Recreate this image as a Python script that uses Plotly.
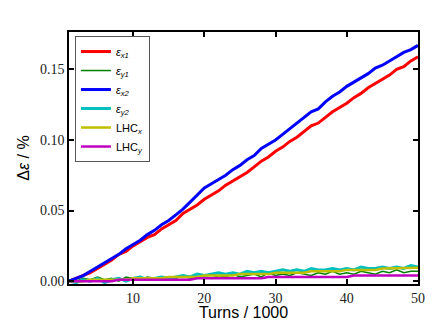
import plotly.graph_objects as go

turns = list(range(1, 51))

eps_x1 = [0.000, 0.002, 0.004, 0.006, 0.009, 0.012, 0.015, 0.019, 0.021, 0.025,
          0.028, 0.031, 0.033, 0.037, 0.040, 0.043, 0.048, 0.051, 0.054, 0.058,
          0.061, 0.064, 0.068, 0.071, 0.074, 0.077, 0.081, 0.085, 0.088, 0.092,
          0.095, 0.099, 0.102, 0.106, 0.110, 0.112, 0.116, 0.120, 0.123, 0.126,
          0.130, 0.133, 0.137, 0.140, 0.143, 0.146, 0.150, 0.152, 0.156, 0.159]
eps_x2 = [0.000, 0.002, 0.004, 0.007, 0.010, 0.013, 0.016, 0.019, 0.023, 0.026,
          0.029, 0.033, 0.036, 0.040, 0.043, 0.047, 0.051, 0.056, 0.061, 0.066,
          0.069, 0.072, 0.075, 0.079, 0.082, 0.086, 0.089, 0.094, 0.097, 0.100,
          0.104, 0.108, 0.112, 0.116, 0.120, 0.122, 0.127, 0.131, 0.134, 0.138,
          0.141, 0.144, 0.147, 0.151, 0.153, 0.156, 0.159, 0.162, 0.164, 0.167]
eps_y1 = [0.001, 0.000, 0.002, 0.001, 0.003, 0.001, 0.002, 0.000, 0.003, 0.002,
          0.001, 0.003, 0.002, 0.001, 0.003, 0.002, 0.004, 0.002, 0.003, 0.003,
          0.002, 0.004, 0.003, 0.005, 0.003, 0.004, 0.005, 0.003, 0.006, 0.004,
          0.005, 0.004, 0.006, 0.005, 0.004, 0.006, 0.005, 0.007, 0.005, 0.006,
          0.005, 0.007, 0.006, 0.005, 0.007, 0.006, 0.008, 0.006, 0.007, 0.007]
eps_y2 = [0.000, -0.001, 0.001, 0.000, 0.002, -0.001, 0.001, 0.002, 0.000, 0.002,
          0.003, 0.001, 0.002, 0.003, 0.002, 0.003, 0.004, 0.003, 0.005, 0.004,
          0.005, 0.006, 0.005, 0.006, 0.005, 0.007, 0.006, 0.007, 0.006, 0.007,
          0.008, 0.007, 0.008, 0.007, 0.009, 0.008, 0.008, 0.009, 0.008, 0.009,
          0.008, 0.010, 0.009, 0.009, 0.010, 0.009, 0.010, 0.009, 0.011, 0.010]
lhc_x = [0.000, 0.000, 0.000, 0.001, 0.001, 0.001, 0.001, 0.001, 0.001, 0.002,
         0.002, 0.002, 0.002, 0.002, 0.003, 0.003, 0.003, 0.003, 0.003, 0.004,
         0.004, 0.004, 0.004, 0.004, 0.005, 0.005, 0.005, 0.005, 0.005, 0.006,
         0.006, 0.006, 0.006, 0.006, 0.007, 0.007, 0.007, 0.007, 0.007, 0.008,
         0.008, 0.008, 0.008, 0.008, 0.009, 0.009, 0.009, 0.009, 0.009, 0.0095]
lhc_y = [0.000, 0.000, 0.000, 0.000, 0.000, 0.000, 0.000, 0.001, 0.001, 0.001,
         0.001, 0.001, 0.001, 0.001, 0.001, 0.001, 0.001, 0.001, 0.002, 0.002,
         0.002, 0.002, 0.002, 0.002, 0.002, 0.002, 0.002, 0.002, 0.003, 0.003,
         0.003, 0.003, 0.003, 0.003, 0.003, 0.003, 0.003, 0.003, 0.003, 0.003,
         0.004, 0.004, 0.004, 0.004, 0.004, 0.004, 0.004, 0.004, 0.004, 0.004]

series = [
    ("<i>ε<sub>x1</sub></i>", eps_x1, "#ff0000", 3),
    ("<i>ε<sub>y1</sub></i>", eps_y1, "#008000", 1.5),
    ("<i>ε<sub>x2</sub></i>", eps_x2, "#0000ff", 3),
    ("<i>ε<sub>y2</sub></i>", eps_y2, "#00bfbf", 3),
    ("LHC<sub><i>x</i></sub>", lhc_x, "#bfbf00", 2.5),
    ("LHC<sub><i>y</i></sub>", lhc_y, "#bf00bf", 2.5),
]

fig = go.Figure()
for name, vals, color, w in series:
    fig.add_trace(go.Scatter(x=turns, y=vals, mode="lines", name=name,
                             line=dict(color=color, width=w)))

axis_style = dict(showline=True, linecolor="black", linewidth=1.5, mirror="ticks",
                  ticks="inside", ticklen=5, tickwidth=1.5, tickcolor="black",
                  showgrid=False, zeroline=False, automargin=False,
                  tickfont=dict(family="Liberation Serif", size=14, color="#222"))

# the page puts the figure 8px in from the top-left corner
fig.update_layout(
    width=420, height=313,
    margin=dict(l=61, r=10, t=24, b=37),
    plot_bgcolor="white", paper_bgcolor="white",
    xaxis=dict(range=[1, 50], tickvals=[10, 20, 30, 40, 50],
               title=dict(text="Turns / 1000", standoff=6,
                          font=dict(family="Liberation Sans", size=16, color="black")),
               **axis_style),
    yaxis=dict(range=[-0.002, 0.1765], tickvals=[0, 0.05, 0.1, 0.15], tickformat=".2f",
               title=dict(text="Δ<i>ε</i> / %", standoff=6,
                          font=dict(family="Liberation Sans", size=16, color="black")),
               **axis_style),
    legend=dict(x=0.017, y=0.984, xanchor="left", yanchor="top",
                bgcolor="white", bordercolor="#555", borderwidth=1,
                font=dict(family="Liberation Sans", size=11, color="black"),
                itemwidth=30, tracegroupgap=0),
    showlegend=True,
)

fig.write_html("out.html")
